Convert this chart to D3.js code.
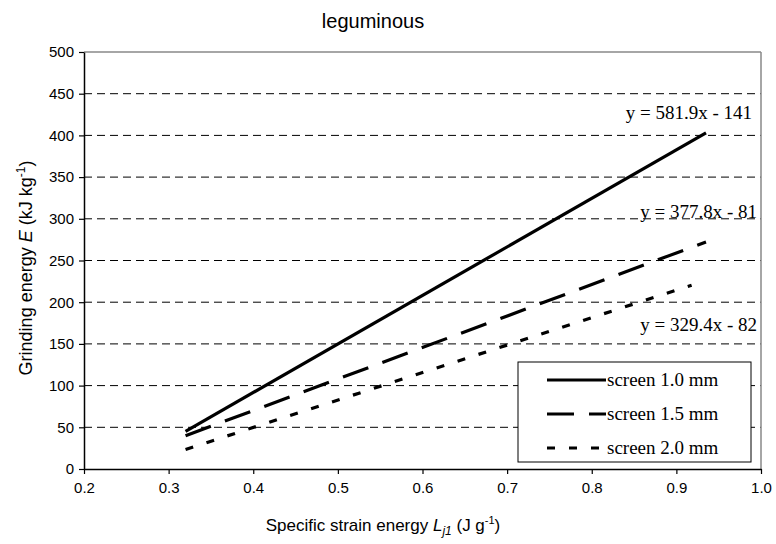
<!DOCTYPE html>
<html><head><meta charset="utf-8">
<script src="https://cdn.jsdelivr.net/npm/d3@7"></script>
<style>body{margin:0;background:#fff}svg{display:block}</style>
</head><body>
<script>
const title = "leguminous";
const seriesNames = ["screen 1.0 mm", "screen 1.5 mm", "screen 2.0 mm"];
const xStart = [0.32, 0.32, 0.32];
const xEnd = [0.935, 0.935, 0.918];
const slopes = [581.9, 377.8, 329.4];
const intercepts = [-141, -81, -82];
const equations = ["y = 581.9x - 141", "y = 377.8x - 81", "y = 329.4x - 82"];
const xTicks = [0.2, 0.3, 0.4, 0.5, 0.6, 0.7, 0.8, 0.9, 1.0];
const yTicks = [0, 50, 100, 150, 200, 250, 300, 350, 400, 450, 500];

const W = 776, H = 544;
const svg = d3.select("body").append("svg").attr("width", W).attr("height", H);
const x = d3.scaleLinear().domain([0.2, 1.0]).range([84, 761]);
const y = d3.scaleLinear().domain([0, 500]).range([469, 52]);

// gridlines
svg.append("g").selectAll("line").data(yTicks.filter(d => d > 0 && d < 500)).join("line")
  .attr("x1", x(0.2)).attr("x2", x(1.0)).attr("y1", d => y(d)).attr("y2", d => y(d))
  .attr("stroke", "#000").attr("stroke-width", 1).attr("stroke-dasharray", "8,5");

// frame top & right
svg.append("line").attr("x1", x(0.2)).attr("x2", x(1.0)).attr("y1", y(500)).attr("y2", y(500)).attr("stroke", "#888").attr("stroke-width", 1.5);
svg.append("line").attr("x1", x(1.0)).attr("x2", x(1.0)).attr("y1", y(500)).attr("y2", y(0)).attr("stroke", "#888").attr("stroke-width", 1.5);

// axes
const xAxis = svg.append("g").attr("transform", `translate(0,${y(0)})`)
  .call(d3.axisBottom(x).tickValues(xTicks).tickFormat(d3.format(".1f")).tickSizeInner(5).tickSizeOuter(0).tickPadding(8));
const yAxis = svg.append("g").attr("transform", `translate(${x(0.2)},0)`)
  .call(d3.axisLeft(y).tickValues(yTicks).tickSizeInner(5).tickSizeOuter(0).tickPadding(5));
[xAxis, yAxis].forEach(a => {
  a.select(".domain").attr("stroke", "#000").attr("stroke-width", 1.5);
  a.selectAll(".tick line").attr("stroke", "#000").attr("stroke-width", 1.2);
  a.selectAll("text").attr("font-family", "Liberation Sans, Arial, sans-serif").attr("font-size", 15).attr("fill", "#000");
});

// series lines
const dashes = [null, "27,15", "8,14"];
const line = d3.line().x(d => x(d[0])).y(d => y(d[1]));
seriesNames.forEach((n, i) => {
  const pts = [xStart[i], xEnd[i]].map(v => [v, slopes[i] * v + intercepts[i]]);
  svg.append("path").attr("d", line(pts)).attr("fill", "none").attr("stroke", "#000")
    .attr("stroke-width", 3.2).attr("stroke-dasharray", dashes[i]);
});

// equations
const eqY = [119, 218, 331];
const eqX = [752, 757, 757];
equations.forEach((e, i) => {
  svg.append("text").attr("x", eqX[i]).attr("y", eqY[i]).attr("text-anchor", "end")
    .attr("font-family", "Liberation Serif, Times New Roman, serif").attr("font-size", 19).attr("fill", "#000").text(e);
});

// legend
const lg = svg.append("g");
lg.append("rect").attr("x", 518).attr("y", 362).attr("width", 233).attr("height", 100)
  .attr("fill", "#fff").attr("stroke", "#000").attr("stroke-width", 1);
seriesNames.forEach((n, i) => {
  const ly = 380 + i * 34;
  lg.append("line").attr("x1", 547).attr("x2", 606).attr("y1", ly).attr("y2", ly)
    .attr("stroke", "#000").attr("stroke-width", 3.2).attr("stroke-dasharray", dashes[i]);
  lg.append("text").attr("x", 607).attr("y", ly + 6).attr("font-family", "Liberation Serif, Times New Roman, serif")
    .attr("font-size", 19).attr("fill", "#000").text(n);
});

// title
svg.append("text").attr("x", 373).attr("y", 28).attr("text-anchor", "middle")
  .attr("font-family", "Liberation Sans, Arial, sans-serif").attr("font-size", 20).attr("fill", "#000").text(title);

// x axis title
const xt = svg.append("text").attr("x", 383).attr("y", 531).attr("text-anchor", "middle")
  .attr("font-family", "Liberation Sans, Arial, sans-serif").attr("font-size", 17).attr("fill", "#000");
xt.append("tspan").text("Specific strain energy ");
xt.append("tspan").attr("font-style", "italic").text("L");
xt.append("tspan").attr("font-style", "italic").attr("font-size", 12).attr("dy", 4).text("j1");
xt.append("tspan").attr("dy", -4).text("  (J g");
xt.append("tspan").attr("font-size", 11).attr("dy", -7).text("-1");
xt.append("tspan").attr("dy", 7).text(")");

// y axis title
const yt = svg.append("text").attr("transform", "translate(32,268) rotate(-90)").attr("text-anchor", "middle")
  .attr("font-family", "Liberation Sans, Arial, sans-serif").attr("font-size", 18).attr("fill", "#000");
yt.append("tspan").text("Grinding energy ");
yt.append("tspan").attr("font-style", "italic").text("E");
yt.append("tspan").text("  (kJ kg");
yt.append("tspan").attr("font-size", 12).attr("dy", -7).text("-1");
yt.append("tspan").attr("dy", 7).text(")");
</script>
</body></html>
